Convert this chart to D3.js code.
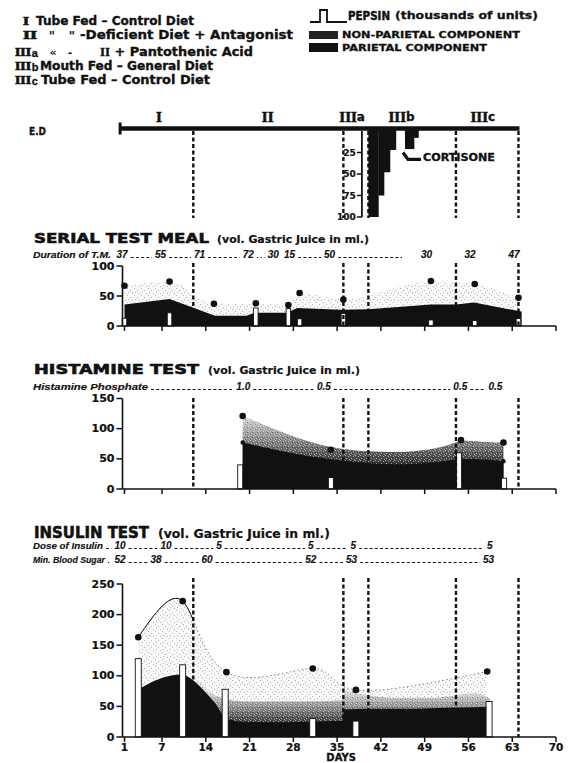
<!DOCTYPE html>
<html><head><meta charset="utf-8">
<script src="https://cdn.jsdelivr.net/npm/d3@7"></script>
<style>body{margin:0;background:#fff}svg{display:block}</style>
</head><body>
<svg id="c" width="579" height="763"></svg>
<script>
// ================= DATA =================
const dayTicks = [1,7,14,21,28,35,42,49,56,63,70];
const boundaryDays = [12,36,40,54,64];
const edStartDay = 0.3;
const periodNumerals = ["I","II","III","III","III"];
const periodSuffix = ["","","a","b","c"];
const periodLabelDays = [6.5,23.9,37.4,45.3,58.3];

const legendNumerals = ["I","II","III","III","III"];
const legendSuffix = ["","","a","b","c"];
const legendText = ["Tube Fed \u2013 Control Diet","-Deficient Diet + Antagonist","II + Pantothenic Acid","Mouth Fed \u2013 General Diet","Tube Fed \u2013 Control Diet"];

// E.D. panel (stepped dosage bars hanging from the line)
const edTicks = [25,50,75,100];
const edBarStart = [40,41.6,42.5,43.45];
const edBarEnd   = [41.6,42.5,43.45,44.4];
const edBarDose  = [100,75,48,22];
const cortStart = [45.85,47.3];
const cortEnd   = [47.3,48];
const cortDose  = [21,8];

// Serial test meal
const serialTicks = [0,50,100];
const serialDays  = [1,8.2,15.3,22,27.2,29,36,50,57,64];
const serialTotal = [67,74,37,38,35,55,44,75,70,47];
const serialPepsin = [13,22,null,30,29,12,21,10,9,13];
const serialParietalDays = [1,8.2,11.9,14.7,15.5,20.5,21.8,27,28.6,35.5,40,50,54,56.9,64.5];
const serialParietal     = [36,45,31,20,17,17,22,22,30,27,28,36,36,39,24];
const serialDuration = ["37","55","71","72","30","15","50","30","32","47"];
const serialDurationDays = [0.62,6.76,13.0,20.8,24.8,27.4,33.8,49.3,56.25,63.3];
const serialGaps = ["","-","-","-",".","","-","h","",""];

// Histamine test
const histTicks = [0,50,100,150];
const histDays  = [19.9,34,54.8,61.6];
const histTotal = [121,65,81,77];
const histPepsinDays = [19.5,34,54.5,61.7];
const histPepsin = [40,19,60,18];
const histGreyDays = [19.9,27,34,40,46,52,54.8,58,61.6];
const histGrey     = [121,90,67,62,60,68,82,78,77];
const histParietalDays = [19.9,24,29,35,40,46,51,54,58,61.6];
const histParietal     = [77,68,56,48,42,40,44,50,50,46];
const histDose = ["1.0","0.5","0.5","0.5"];
const histDoseDays = [20.0,32.9,54.7,60.3];
const histGaps = ["-","-","-","-"];

// Insulin test
const insTicks = [0,50,100,150,200,250];
const insDays  = [3.2,10.3,17.3,31.1,38,59];
const insTotal = [163,222,106,112,77,107];
const insPepsinDays = [3.2,10.3,17.1,31.1,38,59.3];
const insPepsin = [128,118,78,30,26,58];
const insGreyDays = [11.8,13.5,16,20,25,30,35.9,36.1,40,45,50,54,57,59.5];
const insGrey     = [94,85,66,58,58,58,60,75,68,64,64,68,72,62];
const insParietalDays = [3.2,5,7.5,10,11.8,13.5,15.5,17.3,20,25,30,35.9,36.1,40,45,50,55,59.5];
const insParietal     = [78,88,98,102,94,78,55,30,25,24,25,26,45,46,46,47,48,50];
const insDose = ["10","10","5","5","5","5"];
const insDoseDays = [0.3,7.64,16.1,30.8,37.6,59.4];
const insDoseGaps = ["-","-","-","-","-","-"];
const insSugar = ["52","38","60","52","53","53"];
const insSugarDays = [0.3,6.04,14.2,30.8,37.3,59.2];
const insSugarGaps = [".","-","-","-","-","-"];

// ================= DRAW =================
const svg = d3.select("#c");
const SANS = "'DejaVu Sans','Liberation Sans',sans-serif";
const NARROW = "'Liberation Sans','Arial',sans-serif";
const SERIF = "'Liberation Serif','DejaVu Serif',serif";
const INK = "#111";
const x = d3.scaleLinear().domain([1,70]).range([124.5,556]);
const axisX = x.range()[0]-2;

function T(g,s,px,py,o={}){
  const t=g.append("text").attr("x",px).attr("y",py).text(s)
    .attr("font-family",o.ff||SANS).attr("font-size",o.fs||11)
    .attr("font-weight",o.fw||"bold").attr("font-style",o.it?"italic":"normal")
    .attr("text-anchor",o.anchor||"start").attr("dominant-baseline","central")
    .attr("fill",INK);
  if(o.len) t.attr("textLength",o.len).attr("lengthAdjust","spacingAndGlyphs");
  if(o.sw) t.attr("stroke",INK).attr("stroke-width",o.sw);
  return t;
}

const defs = svg.append("defs");
const sp = defs.append("pattern").attr("id","speck").attr("width",7).attr("height",7).attr("patternUnits","userSpaceOnUse");
sp.append("rect").attr("width",7).attr("height",7).attr("fill","#f8f8f8");
[[1,1],[4,3],[2,5],[6,6]].forEach(p=>sp.append("rect").attr("x",p[0]).attr("y",p[1]).attr("width",1).attr("height",1).attr("fill","#b5b5b5"));
const np = defs.append("pattern").attr("id","grain").attr("width",5).attr("height",5).attr("patternUnits","userSpaceOnUse");
[[0,0],[3,1],[1,3],[4,4]].forEach(p=>np.append("rect").attr("x",p[0]).attr("y",p[1]).attr("width",1).attr("height",1).attr("fill","#fff").attr("opacity",0.55));
[[2,2],[0,4]].forEach(p=>np.append("rect").attr("x",p[0]).attr("y",p[1]).attr("width",1).attr("height",1).attr("fill","#000").attr("opacity",0.35));

// ---------- top-left legend ----------
const lg = svg.append("g");
const legY = [21,35,52,65.5,79.5];
const legNumX = [23,23,15,15,15];
const legNumLen = [6,14,16,16,16];
const legTextX = [36,80,100,40,41];
const legTextLen = [158,213,153,173,169];
legendNumerals.forEach((n,i)=>{
  T(lg,n,legNumX[i],legY[i],{ff:SERIF,fs:11.5,len:legNumLen[i],sw:0.7});
  if(legendSuffix[i]) T(lg,legendSuffix[i],legNumX[i]+legNumLen[i]+0.8,legY[i]+1,{ff:NARROW,fs:11,sw:0.3});
  if(i===2){
    const t2=T(lg,"",legTextX[i],legY[i],{fs:12,len:legTextLen[i],sw:0.35});
    t2.append("tspan").attr("font-family",SERIF).attr("font-size",12).text("II");
    t2.append("tspan").text(" + Pantothenic Acid");
  } else {
    T(lg,legendText[i],legTextX[i],legY[i],{fs:12,len:legTextLen[i],sw:0.35});
  }
});
T(lg,"\"",52,36,{fs:12,anchor:"middle"});
T(lg,"\"",72,36,{fs:12,anchor:"middle"});
T(lg,"\u00ab",53,52,{fs:11,anchor:"middle"});
T(lg,"-",70,52,{fs:11,anchor:"middle"});

// ---------- top-right legend ----------
const rl = svg.append("g");
rl.append("path").attr("d","M310,22H320V10H327V22H347").attr("fill","none").attr("stroke",INK).attr("stroke-width",1.8);
T(rl,"PEPSIN",348,15,{fs:12.5,len:42,sw:0.5});
T(rl,"(thousands of units)",395,15,{fs:11,len:143,sw:0.3});
rl.append("rect").attr("x",309).attr("y",31).attr("width",29).attr("height",8).attr("fill","#222");
T(rl,"NON-PARIETAL COMPONENT",342,34.5,{fs:9.5,len:178,sw:0.3});
rl.append("rect").attr("x",309).attr("y",43).attr("width",29).attr("height",9).attr("fill",INK);
T(rl,"PARIETAL COMPONENT",342,47.5,{fs:9.5,len:145,sw:0.3});

// ---------- E.D. panel ----------
const ed = svg.append("g");
const edLineY = 128.5;
const yC = d3.scaleLinear().domain([0,100]).range([131,217]);
T(ed,"E.D",29,131,{fs:10,len:17,sw:0.3});
periodNumerals.forEach((n,i)=>{
  const t = ed.append("text").attr("x",x(periodLabelDays[i])).attr("y",117).attr("text-anchor","middle")
    .attr("dominant-baseline","central").attr("fill",INK).attr("font-weight","bold")
    .attr("stroke",INK).attr("stroke-width",0.6);
  t.append("tspan").attr("font-family",SERIF).attr("font-size",15).text(n);
  if(periodSuffix[i]) t.append("tspan").attr("font-family",SANS).attr("font-size",12).attr("stroke-width",0.3).text(periodSuffix[i]);
});
boundaryDays.forEach(d=>{
  ed.append("line").attr("x1",x(d)).attr("x2",x(d)).attr("y1",yC(0)).attr("y2",yC(100)+1)
    .attr("stroke",INK).attr("stroke-width",2.4).attr("stroke-dasharray","4,2.5");
});
ed.append("line").attr("x1",x(edStartDay)).attr("x2",x(boundaryDays[4])+1).attr("y1",edLineY).attr("y2",edLineY)
  .attr("stroke",INK).attr("stroke-width",4.5);
ed.append("line").attr("x1",x(edStartDay)).attr("x2",x(edStartDay)).attr("y1",edLineY-6).attr("y2",edLineY+6)
  .attr("stroke",INK).attr("stroke-width",3);
const cAx = x(boundaryDays[2])-6.5;
ed.append("line").attr("x1",cAx).attr("x2",cAx).attr("y1",yC(0)).attr("y2",yC(100)).attr("stroke",INK).attr("stroke-width",1.8);
edTicks.forEach(v=>{
  ed.append("line").attr("x1",cAx-5).attr("x2",cAx).attr("y1",yC(v)).attr("y2",yC(v)).attr("stroke",INK).attr("stroke-width",1.5);
  T(ed,String(v),cAx-6,yC(v),{fs:9,anchor:"end",sw:0.2});
});
edBarDose.forEach((v,i)=>{
  ed.append("rect").attr("x",x(edBarStart[i])).attr("width",x(edBarEnd[i])-x(edBarStart[i])+0.3)
    .attr("y",yC(0)-1).attr("height",yC(v)-yC(0)+1).attr("fill",INK);
});
cortDose.forEach((v,i)=>{
  ed.append("rect").attr("x",x(cortStart[i])).attr("width",x(cortEnd[i])-x(cortStart[i])+0.3)
    .attr("y",yC(0)-1).attr("height",yC(v)-yC(0)+1).attr("fill",INK);
});
const hx = x(cortStart[0]);
ed.append("path").attr("d",`M${hx-2},${yC(25)}L${hx+3},${yC(33)}L${hx+16},${yC(33)}`)
  .attr("fill","none").attr("stroke",INK).attr("stroke-width",3.2);
T(ed,"CORTISONE",hx+18,157.5,{fs:10,len:72,sw:0.3});

// ---------- chart panels ----------
function annotRow(g,lead,leadLen,labels,labelDays,gaps,rowY,fs){
  const items=[];
  T(g,lead,33,rowY,{ff:NARROW,fs:fs,it:true,len:leadLen,sw:0.15});
  items.push({x0:33,x1:33+leadLen});
  labels.forEach((s,i)=>{
    const t=T(g,s,x(labelDays[i]),rowY,{ff:NARROW,fs:10,it:true,anchor:"middle",sw:0.15});
    const w=t.node().getComputedTextLength();
    items.push({x0:x(labelDays[i])-w/2,x1:x(labelDays[i])+w/2});
  });
  gaps.forEach((gp,i)=>{
    if(!gp) return;
    const a=items[i].x1+3, b=items[i+1].x0-3;
    const e = gp==="h" ? a+(b-a)*0.8 : b;
    g.append("line").attr("x1",a).attr("x2",e).attr("y1",rowY+3).attr("y2",rowY+3)
      .attr("stroke",INK).attr("stroke-width",1.1)
      .attr("stroke-dasharray",gp==="."?"1.2,2.5":"3,2.2");
  });
}

function panel(c){
  const g=svg.append("g");
  const y=d3.scaleLinear().domain([0,c.max]).range([c.y0,c.yMax]);
  T(g,c.title,34,c.titleY,{fs:c.tfs,len:c.titleLen,sw:0.6});
  T(g,"(vol. Gastric Juice in ml.)",c.subX,c.titleY+1,{fs:c.sfs,len:c.subLen,sw:0.2});
  c.rows.forEach(r=>annotRow(g,r.lead,r.leadLen,r.labels,r.days,r.gaps,r.y,r.fs));

  const ln = (curve)=>d3.line().x(d=>x(d[0])).y(d=>y(d[1])).curve(curve);
  const ar = (curve)=>d3.area().x(d=>x(d[0])).y0(y(0)).y1(d=>y(d[1])).curve(curve);
  if(c.light){
    g.append("path").attr("d",ar(c.lightCurve)(d3.zip(c.light[0],c.light[1]))).attr("fill","url(#speck)");
  }
  if(c.grey){
    const gid="grad"+c.id;
    const gr=defs.append("linearGradient").attr("id",gid).attr("gradientUnits","userSpaceOnUse")
      .attr("x1",0).attr("x2",0).attr("y1",y(c.gradLo)).attr("y2",y(c.gradHi));
    gr.append("stop").attr("offset",0).attr("stop-color","#2e2e2e");
    gr.append("stop").attr("offset",1).attr("stop-color","#e4e4e4");
    const gd=ar(c.greyCurve)(d3.zip(c.grey[0],c.grey[1]));
    g.append("path").attr("d",gd).attr("fill",`url(#${gid})`);
    g.append("path").attr("d",gd).attr("fill","url(#grain)");
  }
  g.append("path").attr("d",ar(c.blackCurve)(d3.zip(c.black[0],c.black[1]))).attr("fill",INK);
  if(c.totalLine){
    const pts=d3.zip(c.total[0],c.total[1]);
    const cid="clip"+c.id;
    defs.append("clipPath").attr("id",cid).append("rect").attr("x",0).attr("y",0).attr("width",x(12)).attr("height",763);
    g.append("path").attr("d",ln(d3.curveNatural)(pts)).attr("fill","none").attr("stroke","#666").attr("stroke-width",0.8).attr("stroke-dasharray","1.5,2.5");
    g.append("path").attr("d",ln(d3.curveNatural)(pts)).attr("fill","none").attr("stroke",INK).attr("stroke-width",1).attr("clip-path",`url(#${cid})`);
  }
  c.pepsin[1].forEach((v,i)=>{
    if(v==null) return;
    const d=c.pepsin[0][i];
    g.append("rect").attr("x",x(d)-c.bw/2).attr("width",c.bw).attr("y",y(v)).attr("height",y(0)-y(v))
      .attr("fill","#fff").attr("stroke",INK).attr("stroke-width",0.9);
  });
  c.total[1].forEach((v,i)=>{
    g.append("circle").attr("cx",x(c.total[0][i])).attr("cy",y(v)).attr("r",3.3).attr("fill",INK);
  });
  if(c.smallDots){
    c.smallDots.forEach(p=>g.append("circle").attr("cx",x(p[0])).attr("cy",y(p[1])).attr("r",2.2).attr("fill",INK));
  }
  boundaryDays.forEach(d=>{
    g.append("line").attr("x1",x(d)).attr("x2",x(d)).attr("y1",c.dashTop).attr("y2",y(0))
      .attr("stroke",INK).attr("stroke-width",2.4).attr("stroke-dasharray","4,2.5");
  });
  g.append("line").attr("x1",axisX).attr("x2",x(70)).attr("y1",y(0)).attr("y2",y(0)).attr("stroke",INK).attr("stroke-width",1.6);
  dayTicks.forEach(d=>{
    g.append("line").attr("x1",x(d)).attr("x2",x(d)).attr("y1",y(0)).attr("y2",y(0)+5).attr("stroke",INK).attr("stroke-width",1.5);
    if(c.xLabels) T(g,String(d),x(d),y(0)+10,{fs:10.5,anchor:"middle",sw:0.2});
  });
  g.append("line").attr("x1",axisX).attr("x2",axisX).attr("y1",y(0)).attr("y2",y(c.max)).attr("stroke",INK).attr("stroke-width",1.6);
  c.ticks.forEach(v=>{
    g.append("line").attr("x1",axisX-6).attr("x2",axisX).attr("y1",y(v)).attr("y2",y(v)).attr("stroke",INK).attr("stroke-width",1.5);
    T(g,String(v),axisX-8,y(v),{fs:11,anchor:"end",sw:0.2});
  });
  if(c.xLabels) T(g,"DAYS",x(35)+4,y(0)+20,{fs:10,anchor:"middle",sw:0.3});
}

panel({id:"s",title:"SERIAL TEST MEAL",titleY:238,tfs:14,titleLen:175,subX:217,subLen:152,sfs:11,
  rows:[{lead:"Duration of T.M.",leadLen:78,fs:9,labels:serialDuration,days:serialDurationDays,gaps:serialGaps,y:254.5}],
  max:100,y0:326,yMax:266,ticks:serialTicks,dashTop:263,
  light:[serialDays,serialTotal],lightCurve:d3.curveMonotoneX,
  black:[serialParietalDays,serialParietal],blackCurve:d3.curveLinear,
  total:[serialDays,serialTotal],pepsin:[serialDays,serialPepsin],bw:4.5});

panel({id:"h",title:"HISTAMINE TEST",titleY:369,tfs:14,titleLen:165,subX:208,subLen:152,sfs:11,
  rows:[{lead:"Histamine Phosphate",leadLen:115,fs:9.5,labels:histDose,days:histDoseDays,gaps:histGaps,y:386.5}],
  max:150,y0:489,yMax:398.5,ticks:histTicks,dashTop:398,
  grey:[histGreyDays,histGrey],greyCurve:d3.curveBasis,gradLo:40,gradHi:125,
  black:[histParietalDays,histParietal],blackCurve:d3.curveBasis,
  total:[histDays,histTotal],pepsin:[histPepsinDays,histPepsin],bw:5,
  smallDots:[[histParietalDays[0],histParietal[0]],[histParietalDays[9],histParietal[9]]]});

panel({id:"i",title:"INSULIN TEST",titleY:532,tfs:16,titleLen:115,subX:158,subLen:172,sfs:12.5,
  rows:[{lead:"Dose of Insulin",leadLen:70,fs:8.5,labels:insDose,days:insDoseDays,gaps:insDoseGaps,y:545.5},
        {lead:"Min. Blood Sugar",leadLen:72,fs:8.5,labels:insSugar,days:insSugarDays,gaps:insSugarGaps,y:559.5}],
  max:250,y0:737,yMax:584,ticks:insTicks,dashTop:578,
  light:[insDays,insTotal],lightCurve:d3.curveNatural,
  grey:[insGreyDays,insGrey],greyCurve:d3.curveMonotoneX,gradLo:20,gradHi:75,
  black:[insParietalDays,insParietal],blackCurve:d3.curveMonotoneX,
  total:[insDays,insTotal],totalLine:true,pepsin:[insPepsinDays,insPepsin],bw:6,xLabels:true});
</script>
</body></html>
